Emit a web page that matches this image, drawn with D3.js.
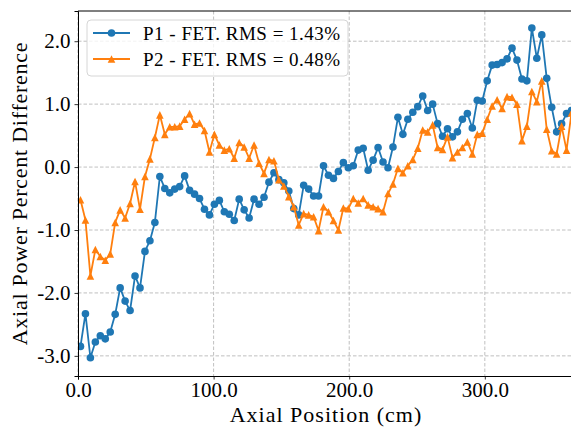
<!DOCTYPE html>
<html>
<head>
<meta charset="utf-8">
<script src="https://cdn.jsdelivr.net/npm/d3@7"></script>
<style>
  body { margin: 0; background: #fff; }
  svg { display: block; font-family: "Liberation Serif", "DejaVu Serif", serif; }
</style>
</head>
<body>
<div id="chart"></div>
<script>
// axial node centres (cm)
const axialPos = [
  1.83, 5.49, 9.14, 12.80, 16.46, 20.12, 23.77, 27.43, 31.09, 34.75,
  38.40, 42.06, 45.72, 49.38, 53.04, 56.69, 60.35, 64.01, 67.67, 71.32,
  74.98, 78.64, 82.30, 85.95, 89.61, 93.27, 96.93, 100.58, 104.24, 107.90,
  111.56, 115.21, 118.87, 122.53, 126.19, 129.84, 133.50, 137.16, 140.82, 144.48,
  148.13, 151.79, 155.45, 159.11, 162.76, 166.42, 170.08, 173.74, 177.39, 181.05,
  184.71, 188.37, 192.02, 195.68, 199.34, 203.00, 206.65, 210.31, 213.97, 217.63,
  221.28, 224.94, 228.60, 232.26, 235.92, 239.57, 243.23, 246.89, 250.55, 254.20,
  257.86, 261.52, 265.18, 268.83, 272.49, 276.15, 279.81, 283.46, 287.12, 290.78,
  294.44, 298.09, 301.75, 305.41, 309.07, 312.72, 316.38, 320.04, 323.70, 327.36,
  331.01, 334.67, 338.33, 341.99, 345.64, 349.30, 352.96, 356.62, 360.27, 363.93
];

const p1Diff = [
  -2.85, -2.33, -3.03, -2.78, -2.68, -2.73, -2.62, -2.34, -1.92, -2.13,
  -2.28, -1.73, -1.92, -1.34, -1.17, -0.88, -0.15, -0.34, -0.41, -0.35,
  -0.31, -0.14, -0.37, -0.43, -0.50, -0.67, -0.76, -0.59, -0.53, -0.71,
  -0.75, -0.85, -0.51, -0.68, -0.81, -0.51, -0.59, -0.48, -0.24, -0.09,
  -0.20, -0.25, -0.38, -0.66, -0.76, -0.29, -0.35, -0.46, -0.46, 0.02,
  -0.13, -0.18, -0.07, 0.07, -0.01, 0.02, 0.27, 0.30, -0.05, 0.11,
  0.31, 0.08, -0.01, 0.32, 0.79, 0.52, 0.76, 0.87, 0.96, 1.13,
  0.90, 1.00, 0.69, 0.49, 0.61, 0.48, 0.56, 0.76, 0.85, 0.62,
  1.06, 1.05, 1.37, 1.62, 1.63, 1.66, 1.72, 1.89, 1.70, 1.40,
  1.37, 2.21, 1.73, 2.10, 1.41, 0.95, 0.56, 0.69, 0.85, 0.90
];

const p2Diff = [
  -0.52, -0.84, -1.73, -1.31, -1.42, -1.48, -1.38, -0.88, -0.68, -0.81,
  -0.58, -0.23, -0.67, -0.15, 0.13, 0.47, 0.83, 0.52, 0.64, 0.64,
  0.65, 0.76, 0.85, 0.68, 0.70, 0.58, 0.24, 0.52, 0.35, 0.27,
  0.29, 0.14, 0.39, 0.32, 0.14, 0.35, 0.06, -0.10, 0.12, 0.10,
  -0.20, -0.30, -0.47, -0.63, -0.92, -0.74, -0.76, -0.79, -1.01, -0.63,
  -0.71, -0.85, -1.00, -0.65, -0.66, -0.50, -0.57, -0.50, -0.60, -0.63,
  -0.66, -0.71, -0.42, -0.27, -0.02, -0.09, 0.02, 0.12, 0.30, 0.59,
  0.56, 0.67, 0.31, 0.28, 0.48, 0.15, 0.24, 0.31, 0.40, 0.21,
  0.52, 0.54, 0.76, 0.97, 1.07, 0.93, 1.12, 1.11, 1.00, 0.42,
  0.65, 1.20, 1.04, 1.37, 0.60, 0.26, 0.21, 0.65, 0.27, 0.86
];

const xTicks = [0, 100, 200, 300];
const yTicks = [-3, -2, -1, 0, 1, 2];
const seriesNames = ["P1 - FET. RMS = 1.43%", "P2 - FET. RMS = 0.48%"];

const W = 571, H = 428;
const margin = { top: 11, right: -3, bottom: 52, left: 78 };
const width = W - margin.left - margin.right;
const height = H - margin.top - margin.bottom;

const x = d3.scaleLinear().domain([0, 365.76]).range([0, width]);
const y = d3.scaleLinear().domain([-3.32, 2.48]).range([height, 0]);

const svg = d3.select("#chart")
  .append("svg")
  .attr("width", W)
  .attr("height", H);

svg.append("defs").append("clipPath")
  .attr("id", "plotclip")
  .append("rect")
  .attr("width", width)
  .attr("height", height);

const g = svg.append("g")
  .attr("transform", `translate(${margin.left},${margin.top})`);

// grid
g.append("g")
  .selectAll("line")
  .data(xTicks)
  .join("line")
  .attr("x1", d => x(d)).attr("x2", d => x(d))
  .attr("y1", 0).attr("y2", height)
  .attr("stroke", "#b0b0b0")
  .attr("stroke-width", 0.8)
  .attr("stroke-dasharray", "3.5,2");

g.append("g")
  .selectAll("line")
  .data(yTicks)
  .join("line")
  .attr("x1", 0).attr("x2", width)
  .attr("y1", d => y(d)).attr("y2", d => y(d))
  .attr("stroke", "#b0b0b0")
  .attr("stroke-width", 0.8)
  .attr("stroke-dasharray", "3.5,2");

const p1 = axialPos.map((d, i) => ({ pos: d, value: p1Diff[i] }));
const p2 = axialPos.map((d, i) => ({ pos: d, value: p2Diff[i] }));

const line = d3.line()
  .x(d => x(d.pos))
  .y(d => y(d.value));

const plot = g.append("g").attr("clip-path", "url(#plotclip)");

const tri = s => `M0,${-s}L${-s},${s}L${s},${s}Z`;

function drawSeries(data, color, marker) {
  plot.append("path")
    .datum(data)
    .attr("fill", "none")
    .attr("stroke", color)
    .attr("stroke-width", 1.8)
    .attr("stroke-linejoin", "round")
    .attr("d", line);

  if (marker === "circle") {
    plot.append("g")
      .selectAll("circle")
      .data(data)
      .join("circle")
      .attr("cx", d => x(d.pos))
      .attr("cy", d => y(d.value))
      .attr("r", 3.8)
      .attr("fill", color);
  } else {
    plot.append("g")
      .selectAll("path")
      .data(data)
      .join("path")
      .attr("transform", d => `translate(${x(d.pos)},${y(d.value)})`)
      .attr("d", tri(3.8))
      .attr("fill", color);
  }
}

drawSeries(p1, "#1f77b4", "circle");
drawSeries(p2, "#ff7f0e", "triangle");

// axes
const xAxis = g.append("g")
  .attr("transform", `translate(0,${height})`)
  .call(d3.axisBottom(x).tickValues(xTicks).tickFormat(d3.format(".1f")).tickSize(3.5).tickPadding(3));

const yAxis = g.append("g")
  .call(d3.axisLeft(y).tickValues(yTicks).tickFormat(d => d3.format(".1f")(d).replace("−", "-")).tickSize(3.5).tickPadding(4));

[xAxis, yAxis].forEach(a => {
  a.select(".domain").attr("stroke", "#000").attr("stroke-width", 1);
  a.selectAll(".tick line").attr("stroke", "#000").attr("stroke-width", 0.8);
  a.selectAll(".tick text")
    .attr("fill", "#000")
    .style("font-family", '"Liberation Serif", serif')
    .style("font-size", "21px");
});

// top spine
g.append("line")
  .attr("x1", 0).attr("x2", width)
  .attr("y1", 0).attr("y2", 0)
  .attr("stroke", "#000")
  .attr("stroke-width", 1);

// axis labels
svg.append("text")
  .attr("x", 326)
  .attr("y", 422)
  .attr("text-anchor", "middle")
  .style("font-size", "22px")
  .style("letter-spacing", "1px")
  .text("Axial Position (cm)");

svg.append("text")
  .attr("transform", `translate(27,${margin.top + height / 2}) rotate(-90)`)
  .attr("text-anchor", "middle")
  .style("font-size", "22px")
  .style("letter-spacing", "0.75px")
  .text("Axial Power Percent Difference");

// legend
const legend = g.append("g").attr("transform", "translate(9,9)");

legend.append("rect")
  .attr("width", 261)
  .attr("height", 56)
  .attr("rx", 4)
  .attr("fill", "#fff")
  .attr("fill-opacity", 0.8)
  .attr("stroke", "#d6d6d6")
  .attr("stroke-width", 1);

const legendRows = [
  { name: seriesNames[0], color: "#1f77b4", marker: "circle" },
  { name: seriesNames[1], color: "#ff7f0e", marker: "triangle" }
];

legendRows.forEach((r, i) => {
  const row = legend.append("g").attr("transform", `translate(0,${13 + i * 26})`);
  row.append("line")
    .attr("x1", 6).attr("x2", 43)
    .attr("stroke", r.color)
    .attr("stroke-width", 1.8);
  if (r.marker === "circle") {
    row.append("circle").attr("cx", 24.5).attr("r", 3.8).attr("fill", r.color);
  } else {
    row.append("path").attr("transform", "translate(24.5,0)").attr("d", tri(3.8)).attr("fill", r.color);
  }
  row.append("text")
    .attr("x", 56)
    .attr("dy", "0.35em")
    .style("font-size", "19px")
    .style("letter-spacing", "0.5px")
    .text(r.name);
});
</script>
</body>
</html>
